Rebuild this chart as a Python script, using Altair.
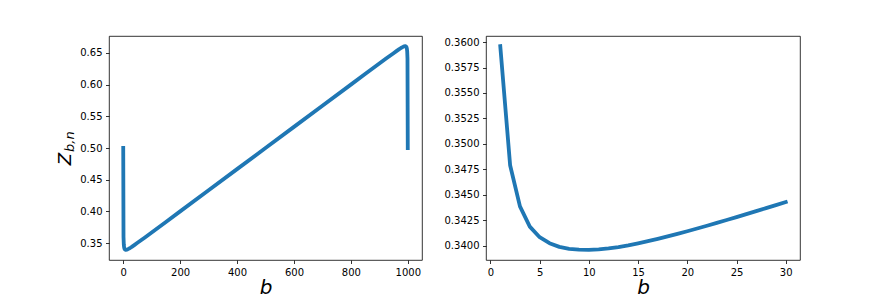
import altair as alt
import pandas as pd

# Right panel: Z_{b,n} for b = 1..30
b_zoom = list(range(1, 31))
z_zoom = [0.3596, 0.3479, 0.34385, 0.34186, 0.34082, 0.34023, 0.33987, 0.33968, 0.33960, 0.33958,
          0.33963, 0.33972, 0.33985, 0.34001, 0.34021, 0.34043, 0.34066, 0.34090, 0.34115, 0.34141,
          0.34168, 0.34195, 0.34223, 0.34251, 0.34280, 0.34309, 0.34338, 0.34368, 0.34398, 0.34428]

# Left panel: Z_{b,n} for b = 0..1000
b_full = [0, 1, 2, 3, 4, 5, 6, 7, 8, 9, 10, 12, 15, 20, 25, 30, 40, 50, 75, 100, 150, 200,
          300, 400, 500, 600, 700, 800, 850, 900, 925, 950, 960, 970, 975, 980, 985, 988,
          990, 992, 993, 994, 995, 996, 997, 998, 999, 1000]
z_full = [0.5, 0.3596, 0.3479, 0.34385, 0.34186, 0.34082, 0.34023, 0.33987, 0.33968, 0.33960,
          0.33958, 0.33972, 0.34021, 0.34141, 0.34280, 0.34428, 0.34742, 0.3506, 0.35873, 0.36697,
          0.38353, 0.40015, 0.4334, 0.46674, 0.5, 0.53326, 0.5666, 0.59985, 0.61647, 0.63303,
          0.64127, 0.6494, 0.65258, 0.65572, 0.6572, 0.65859, 0.65979, 0.66028, 0.66042, 0.66032,
          0.66013, 0.65977, 0.65918, 0.65814, 0.65615, 0.6521, 0.6404, 0.5]

left_xticks = [0, 200, 400, 600, 800, 1000]
left_yticks = [0.35, 0.40, 0.45, 0.50, 0.55, 0.60, 0.65]
right_xticks = [0, 5, 10, 15, 20, 25, 30]
right_yticks = [0.34, 0.3425, 0.345, 0.3475, 0.35, 0.3525, 0.355, 0.3575, 0.36]

FONT = "DejaVu Sans"
BLUE = "#1f77b4"


def line_panel(df, xdom, ydom, xticks, yticks, yfmt, w):
    return alt.Chart(df).mark_line(
        color=BLUE, strokeWidth=3.8, strokeCap="square", strokeJoin="round"
    ).encode(
        x=alt.X("b:Q",
                scale=alt.Scale(domain=xdom, nice=False, zero=False),
                axis=alt.Axis(values=xticks, format="d", title="b",
                              titleFontStyle="italic", titleFontSize=20,
                              titleFont=FONT, titleFontWeight="normal",
                              titleBaseline="alphabetic", titleY=33,
                              titleColor="black")),
        y=alt.Y("z:Q",
                scale=alt.Scale(domain=ydom, nice=False, zero=False),
                axis=alt.Axis(values=yticks, format=yfmt, title=None)),
    ).properties(width=w, height=224)


df_full = pd.DataFrame({"b": b_full, "z": z_full})
df_zoom = pd.DataFrame({"b": b_zoom, "z": z_zoom})

left_line = line_panel(df_full, [-50, 1050], [0.32354, 0.67646],
                       left_xticks, left_yticks, ".2f", 313)
right_line = line_panel(df_zoom, [-0.45, 31.45], [0.33858, 0.3606],
                        right_xticks, right_yticks, ".4f", 314)

z_main = alt.Chart(pd.DataFrame({"t": ["Z"]})).mark_text(
    angle=270, align="right", baseline="alphabetic", fontSize=18,
    fontStyle="italic", font=FONT, color="black"
).encode(x=alt.value(-37.7), y=alt.value(117), text="t:N")

z_sub = alt.Chart(pd.DataFrame({"t": ["b,n"]})).mark_text(
    angle=270, align="left", baseline="alphabetic", fontSize=13,
    fontStyle="italic", font=FONT, color="black"
).encode(x=alt.value(-35.5), y=alt.value(116), text="t:N")

left = alt.layer(left_line, z_main, z_sub)

chart = alt.hconcat(left, right_line, spacing=20).properties(
    padding={"left": 48, "top": 27, "right": 5, "bottom": 0}
).configure_axis(
    labelFont=FONT, labelFontSize=10, labelColor="black",
    tickColor="black", tickSize=3.5, tickWidth=0.8, labelPadding=3.5,
    domain=False, grid=False
).configure_view(
    stroke="black", strokeWidth=0.8
)

chart.save("out.html", embed_options={"renderer": "svg", "actions": False})
